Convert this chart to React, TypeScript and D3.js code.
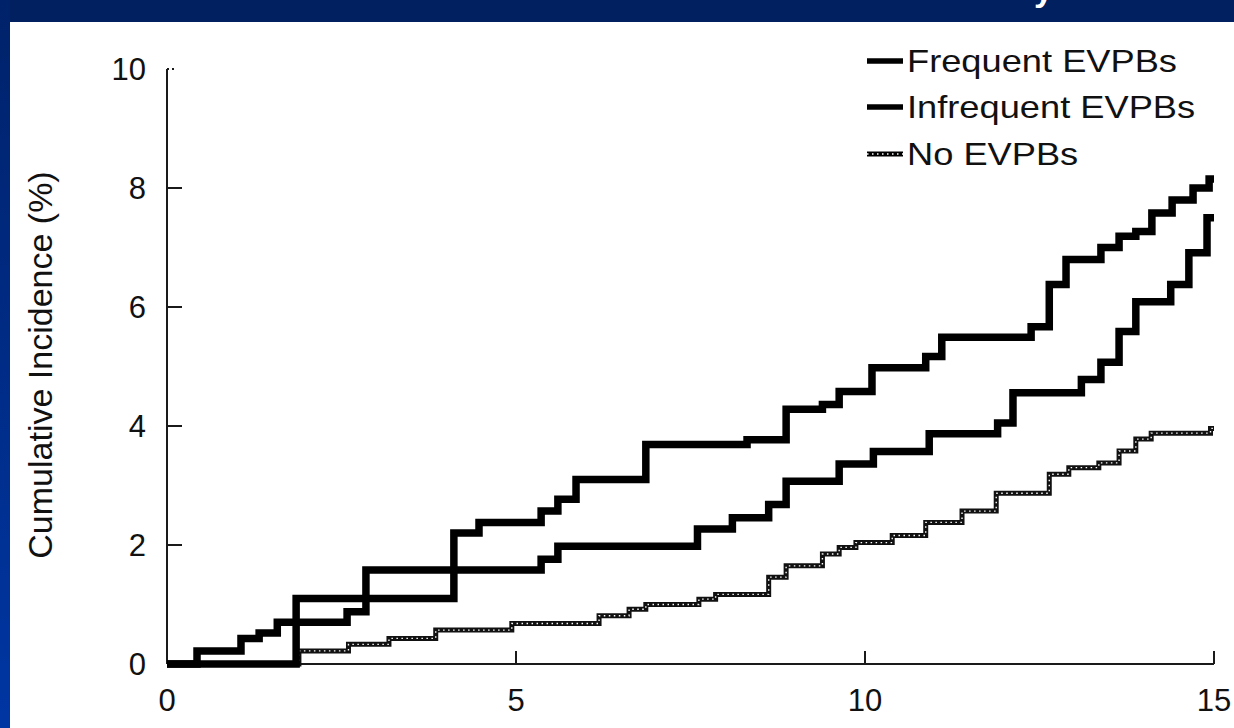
import React from "react";
import * as d3 from "d3";

// Cumulative incidence step curves (years of follow-up vs %)
const frequentTimes = [0, 1.85, 4.11, 4.47, 5.36, 5.6, 5.86, 6.86, 8.31, 8.87, 9.39, 9.63, 10.1, 10.87, 11.1, 12.38, 12.64, 12.88, 13.38, 13.64, 13.88, 14.11, 14.4, 14.7, 14.93, 15];
const frequentValues = [0, 1.1, 2.2, 2.38, 2.57, 2.77, 3.1, 3.69, 3.77, 4.28, 4.36, 4.58, 4.98, 5.17, 5.49, 5.67, 6.38, 6.8, 7.0, 7.19, 7.27, 7.58, 7.8, 8.0, 8.15, 8.15];

const infrequentTimes = [0, 0.43, 1.06, 1.32, 1.58, 2.58, 2.85, 5.36, 5.6, 7.6, 8.1, 8.62, 8.87, 9.63, 10.12, 10.92, 11.9, 12.12, 13.1, 13.38, 13.64, 13.88, 14.38, 14.64, 14.9, 15];
const infrequentValues = [0, 0.22, 0.43, 0.52, 0.7, 0.88, 1.58, 1.76, 1.98, 2.27, 2.46, 2.68, 3.07, 3.36, 3.57, 3.87, 4.05, 4.56, 4.78, 5.07, 5.59, 6.09, 6.38, 6.91, 7.5, 7.5];

const noneTimes = [0, 1.89, 2.6, 3.18, 3.85, 4.94, 6.19, 6.62, 6.86, 7.62, 7.86, 8.62, 8.87, 9.39, 9.63, 9.87, 10.39, 10.87, 11.39, 11.88, 12.64, 12.92, 13.35, 13.64, 13.88, 14.1, 14.95, 15];
const noneValues = [0, 0.22, 0.33, 0.43, 0.57, 0.68, 0.81, 0.92, 1.0, 1.09, 1.17, 1.46, 1.65, 1.85, 1.96, 2.04, 2.16, 2.38, 2.57, 2.87, 3.19, 3.3, 3.38, 3.58, 3.78, 3.88, 3.96, 3.96];

const xTicks = [0, 5, 10, 15];
const yTicks = [0, 2, 4, 6, 8, 10];
const legendLabels = ["Frequent EVPBs", "Infrequent EVPBs", "No EVPBs"];
const yAxisTitle = "Cumulative Incidence (%)";

const W = 1234;
const H = 728;
const FONT = "'Liberation Sans', Arial, Helvetica, sans-serif";

const zip = (ts: number[], vs: number[]): [number, number][] => ts.map((t, i) => [t, vs[i]]);

export default function App() {
  const x = d3.scaleLinear().domain([0, 15]).range([167, 1214]);
  const y = d3.scaleLinear().domain([0, 10]).range([664, 69]);

  const step = d3
    .line<[number, number]>()
    .x((d) => x(d[0]))
    .y((d) => y(d[1]))
    .curve(d3.curveStepAfter);

  const frequentPath = step(zip(frequentTimes, frequentValues)) || "";
  const infrequentPath = step(zip(infrequentTimes, infrequentValues)) || "";
  const nonePath = step(zip(noneTimes, noneValues)) || "";

  const legendX = 867;
  const legendTextX = 907;
  const legendBaselines = [72, 118, 165];

  return (
    <svg
      width={W}
      height={H}
      viewBox={`0 0 ${W} ${H}`}
      style={{ position: "absolute", left: 0, top: 0, background: "#ffffff" }}
    >
      <defs>
        <linearGradient id="sideBand" x1="0" y1="0" x2="0" y2="1">
          <stop offset="0" stopColor="#00226a" />
          <stop offset="1" stopColor="#0036a3" />
        </linearGradient>
      </defs>

      <rect x={0} y={0} width={W} height={H} fill="#ffffff" />
      {/* slide frame */}
      <rect x={0} y={0} width={W} height={22} fill="#002060" />
      <rect x={0} y={0} width={10} height={H} fill="url(#sideBand)" />
      <text x={1034} y={1} fill="#ffffff" fontFamily={FONT} fontWeight="bold" fontSize={34}>
        y
      </text>

      {/* axes */}
      <g stroke="#1a1a1a" strokeWidth={2} fill="none">
        <line x1={x(0)} x2={x(0)} y1={y(10)} y2={y(0)} />
        <line x1={x(0)} x2={x(15)} y1={y(0)} y2={y(0)} />
        {yTicks
          .filter((t) => t > 0)
          .map((t) => (
            <line
              key={`yt${t}`}
              x1={x(0)}
              x2={x(0) + (t === 10 ? 8 : 15)}
              y1={y(t)}
              y2={y(t)}
              strokeDasharray={t === 10 ? "2 3" : undefined}
            />
          ))}
        {xTicks
          .filter((t) => t > 0)
          .map((t) => (
            <line key={`xt${t}`} x1={x(t)} x2={x(t)} y1={y(0)} y2={y(0) - 13} />
          ))}
      </g>

      {/* tick labels */}
      <g fontFamily={FONT} fontSize={31} fill="#111">
        {yTicks.map((t) => (
          <text key={`yl${t}`} x={146} y={y(t) + 11} textAnchor="end">
            {t}
          </text>
        ))}
        {xTicks.map((t) => (
          <text key={`xl${t}`} x={x(t)} y={711} textAnchor="middle">
            {t}
          </text>
        ))}
      </g>

      <text
        transform={`translate(52, 365) rotate(-90)`}
        textAnchor="middle"
        fontFamily={FONT}
        fontSize={34}
        fill="#111"
      >
        {yAxisTitle}
      </text>

      {/* step curves */}
      <path d={nonePath} fill="none" stroke="#111" strokeWidth={5} strokeLinejoin="miter" />
      <path d={nonePath} fill="none" stroke="#ffffff" strokeWidth={1.4} strokeDasharray="1.5 3.5" />
      <path d={infrequentPath} fill="none" stroke="#000" strokeWidth={7.5} strokeLinejoin="miter" />
      <path d={frequentPath} fill="none" stroke="#000" strokeWidth={7.5} strokeLinejoin="miter" />

      {/* legend */}
      {legendLabels.map((label, i) => {
        const by = legendBaselines[i];
        const ly = by - 11;
        return (
          <g key={label}>
            <line x1={legendX} x2={legendX + 36} y1={ly} y2={ly} stroke="#000" strokeWidth={i === 2 ? 5 : 5.5} />
            {i === 2 && (
              <line
                x1={legendX}
                x2={legendX + 36}
                y1={ly}
                y2={ly}
                stroke="#fff"
                strokeWidth={1.4}
                strokeDasharray="1.5 3.5"
              />
            )}
            <text
              transform={`translate(${legendTextX}, ${by}) scale(1.17, 1)`}
              fontFamily={FONT}
              fontSize={31}
              fill="#111"
            >
              {label}
            </text>
          </g>
        );
      })}
    </svg>
  );
}
